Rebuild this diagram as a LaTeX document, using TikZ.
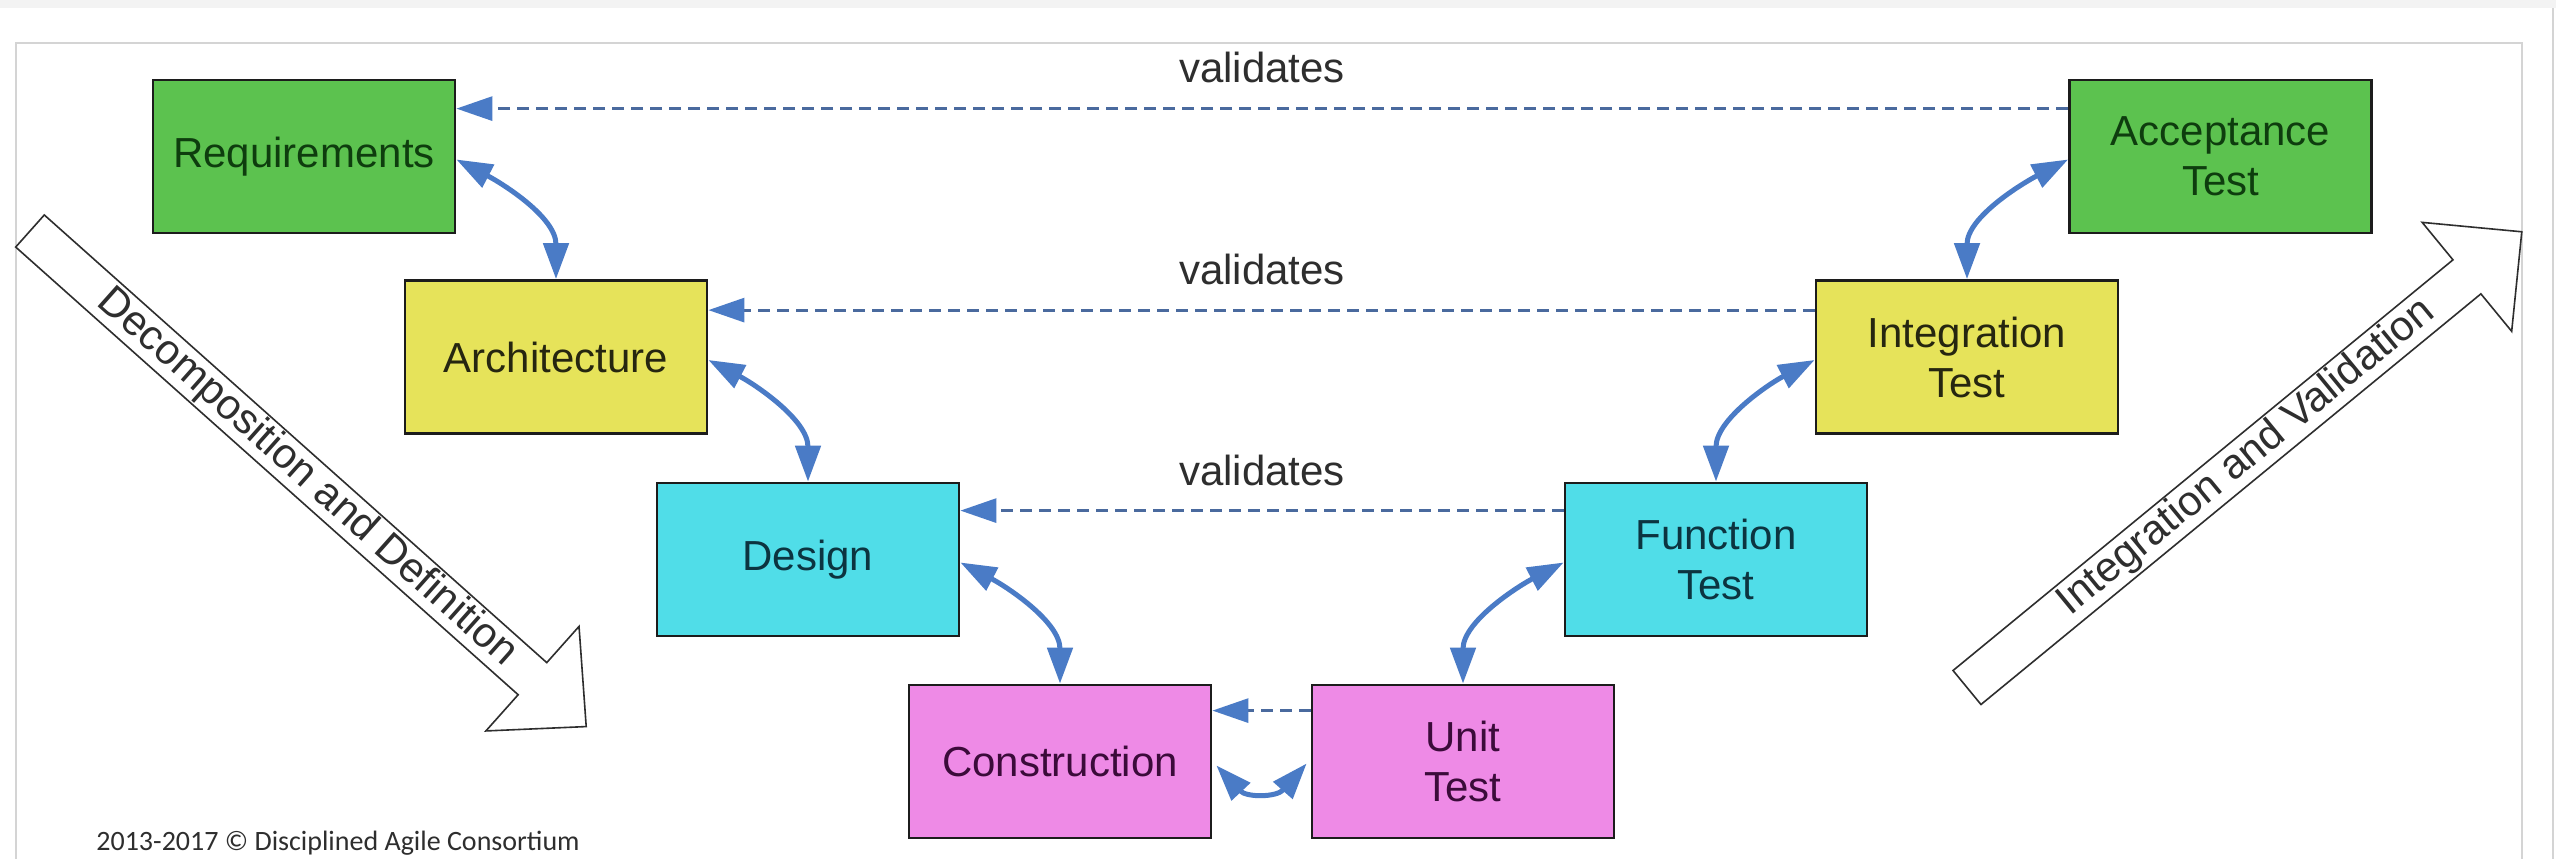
\documentclass[tikz,border=0pt]{standalone}
\usepackage{fontspec}
\setmainfont{Liberation Sans}
\newfontfamily\notefont{Carlito}
\usetikzlibrary{arrows.meta,calc}

\definecolor{stagegreen}{HTML}{5CC24F}
\definecolor{stageyellow}{HTML}{E6E35A}
\definecolor{stagecyan}{HTML}{50DDE8}
\definecolor{stagepink}{HTML}{EE8AE6}
\definecolor{txtgreen}{HTML}{0E3D0E}
\definecolor{txtyellow}{HTML}{262610}
\definecolor{txtcyan}{HTML}{0C3440}
\definecolor{txtpink}{HTML}{3B0B3A}
\definecolor{boxline}{HTML}{1C1C1C}
\definecolor{curveblue}{HTML}{4A7BC6}
\definecolor{dashblue}{HTML}{4A6A9E}
\definecolor{framegray}{HTML}{D4D4D4}
\definecolor{bandgray}{HTML}{F3F3F3}
\definecolor{labelgray}{HTML}{2E2E2E}

\begin{document}
\begin{tikzpicture}[x=0.5pt,y=-0.5pt,
  stage/.style={draw=boxline, line width=1.4pt, minimum width=151pt,
    minimum height=76.5pt, inner sep=0pt, align=center,
    font=\fontsize{21}{25}\selectfont},
  greenstage/.style={stage, fill=stagegreen, text=txtgreen},
  yellowstage/.style={stage, fill=stageyellow, text=txtyellow},
  cyanstage/.style={stage, fill=stagecyan, text=txtcyan},
  pinkstage/.style={stage, fill=stagepink, text=txtpink},
  twoway/.style={draw=curveblue, line width=2.5pt,
    arrows={Triangle[length=18pt,width=12.5pt,fill=curveblue]-Triangle[length=18pt,width=12.5pt,fill=curveblue]}},
  validlink/.style={draw=dashblue, line width=1.5pt, dash pattern=on 6pt off 3.5pt,
    arrows={-Triangle[length=18pt,width=12pt,fill=curveblue,color=curveblue]}},
  validlabel/.style={anchor=base, inner sep=0pt, text=labelgray,
    font=\fontsize{21}{25}\selectfont},
  bigarrow/.style={draw=labelgray, line width=0.8pt, fill=white, line join=miter},
  arrowtext/.style={inner sep=0pt, text=labelgray, font=\fontsize{21}{25}\selectfont},
  framerule/.style={draw=framegray, line width=1pt}
]
\useasboundingbox (0,0) rectangle (2556,858);
\fill[white] (0,0) rectangle (2556,858);

% page band and frame
\fill[bandgray] (0,0) rectangle (2556,8);
\draw[framerule] (16,870) -- (16,43) -- (2522,43) -- (2522,870);
\draw[framerule] (2553,8) -- (2553,870);

% left branch of the V
\node[greenstage]  (req)  at (304,156.5)  {Requirements};
\node[yellowstage] (arch) at (556,357)    {Architecture};
\node[cyanstage]   (des)  at (808,559.5)  {Design};
\node[pinkstage]   (cons) at (1060,761.5) {Construction};

% right branch of the V
\node[pinkstage]   (unit) at (1463,761.5) {Unit\\Test};
\node[cyanstage]   (func) at (1716,559.5) {Function\\Test};
\node[yellowstage] (integ) at (1967,357)  {Integration\\Test};
\node[greenstage]  (acc)  at (2220.5,156.5) {Acceptance\\Test};

% validation links
\draw[validlink] ($(acc.north west)+(0,30)$) -- ($(req.north east)+(0,30)$);
\draw[validlink] ($(integ.north west)+(0,31)$) -- ($(arch.north east)+(0,31)$);
\draw[validlink] ($(func.north west)+(0,29)$) -- ($(des.north east)+(0,29)$);
\draw[validlink] ($(unit.north west)+(0,27)$) -- ($(cons.north east)+(0,27)$);

\node[validlabel] (v1) at (1262,82)  {validates};
\node[validlabel] (v2) at (1262,284) {validates};
\node[validlabel] (v3) at (1262,485) {validates};

% two-way links down the left branch
\draw[twoway] ($(req.east)+(0,3)$) .. controls ($(req.east)+(46,27)$) and ($(arch.north)+(0,-62)$) .. (arch.north);
\draw[twoway] ($(arch.east)+(0,3)$) .. controls ($(arch.east)+(46,27)$) and ($(des.north)+(0,-62)$) .. (des.north);
\draw[twoway] ($(des.east)+(0,3)$) .. controls ($(des.east)+(46,27)$) and ($(cons.north)+(0,-62)$) .. (cons.north);

% two-way links up the right branch
\draw[twoway] (unit.north) .. controls ($(unit.north)+(0,-62)$) and ($(func.west)+(-46,27)$) .. ($(func.west)+(0,3)$);
\draw[twoway] (func.north) .. controls ($(func.north)+(0,-62)$) and ($(integ.west)+(-46,27)$) .. ($(integ.west)+(0,3)$);
\draw[twoway] (integ.north) .. controls ($(integ.north)+(0,-62)$) and ($(acc.west)+(-46,27)$) .. ($(acc.west)+(0,3)$);

% two-way link along the bottom
\draw[twoway] ($(cons.east)+(4,4)$) .. controls ($(cons.east)+(34,36)$) and ($(unit.west)+(-34,36)$) .. ($(unit.west)+(-4,2)$);

% hollow direction arrows
\begin{scope}[shift={(30,231)}, rotate=-41.7]
  \draw[bigarrow] (0,-21.5) -- (673,-21.5) -- (673,-70) -- (745,0) -- (673,70)
    -- (673,21.5) -- (0,21.5) -- cycle;
  \node[arrowtext, rotate=-41.7] (down) at (371,0) {Decomposition and Definition};
\end{scope}
\begin{scope}[shift={(1967,687.5)}, rotate=39.4]
  \draw[bigarrow] (0,-22) -- (647,-22) -- (647,-70.5) -- (718,0) -- (647,70.5)
    -- (647,22) -- (0,22) -- cycle;
  \node[arrowtext, rotate=39.4] (up) at (362,0) {Integration and Validation};
\end{scope}

% copyright line
\node[anchor=base west, inner sep=0pt, text=labelgray,
  font=\notefont\fontsize{14}{16}\selectfont] (copy) at (96,850)
  {2013-2017 © Disciplined Agile Consortium};
\end{tikzpicture}
\end{document}
